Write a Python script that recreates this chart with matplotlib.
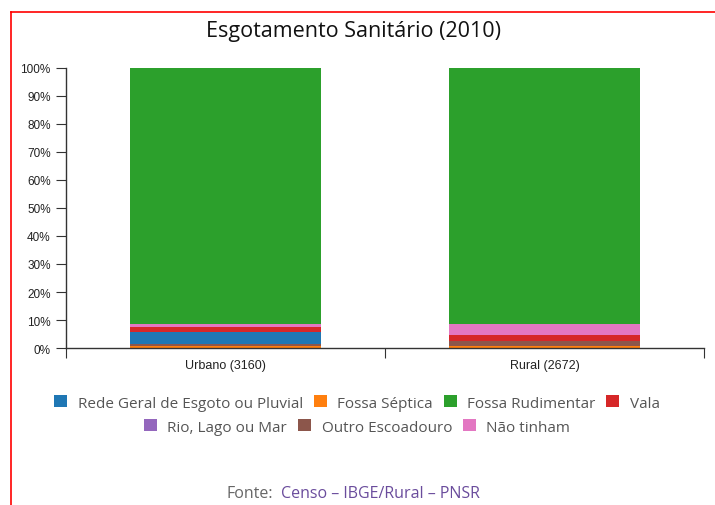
import matplotlib.pyplot as plt
from matplotlib.lines import Line2D
from matplotlib.patches import Patch

# categories and shares (%)
categories = ['Urbano (3160)', 'Rural (2672)']
series_names = ['Rede Geral de Esgoto ou Pluvial', 'Fossa Séptica', 'Fossa Rudimentar',
                'Vala', 'Rio, Lago ou Mar', 'Outro Escoadouro', 'Não tinham']
rede_geral = [4.3, 0.0]
fossa_septica = [0.8, 0.8]
fossa_rudimentar = [91.3, 91.4]
vala = [1.8, 2.1]
rio_lago_mar = [0.0, 0.0]
outro_escoadouro = [0.7, 1.8]
nao_tinham = [1.1, 3.9]

colors = {
    'Rede Geral de Esgoto ou Pluvial': '#1f77b4',
    'Fossa Séptica': '#ff7f0e',
    'Fossa Rudimentar': '#2ca02c',
    'Vala': '#d62728',
    'Rio, Lago ou Mar': '#9467bd',
    'Outro Escoadouro': '#8c564b',
    'Não tinham': '#e377c2',
}

# order in which segments are stacked, bottom to top
stack = [
    ('Fossa Séptica', fossa_septica),
    ('Outro Escoadouro', outro_escoadouro),
    ('Rede Geral de Esgoto ou Pluvial', rede_geral),
    ('Rio, Lago ou Mar', rio_lago_mar),
    ('Vala', vala),
    ('Não tinham', nao_tinham),
    ('Fossa Rudimentar', fossa_rudimentar),
]

W, H = 715, 506
fig = plt.figure(figsize=(W / 100, H / 100), dpi=100)
ax = fig.add_axes([66 / W, (H - 349) / H, 638 / W, 280 / H])

x = list(range(len(categories)))
bottom = [0.0] * len(categories)
for name, vals in stack:
    ax.bar(x, vals, width=0.6, bottom=bottom, color=colors[name],
           edgecolor='none')
    bottom = [b + v for b, v in zip(bottom, vals)]

ax.set_xlim(-0.5, 1.5)
ax.set_ylim(0, 100)
ax.spines['top'].set_visible(False)
ax.spines['right'].set_visible(False)
for s in ['left', 'bottom']:
    ax.spines[s].set_color('#333333')
    ax.spines[s].set_linewidth(1)

ax.set_yticks(range(0, 101, 10))
ax.set_yticklabels([f'{v}%' for v in range(0, 101, 10)],
                   fontfamily='Liberation Sans', fontsize=8.5, color='#222222')
ax.tick_params(axis='y', length=7, color='#333333', pad=4)

ax.set_xticks([-0.5, 0.5, 1.5])
ax.set_xticklabels(['', '', ''])
ax.tick_params(axis='x', which='major', length=7, color='#333333')
ax.set_xticks(x, minor=True)
ax.set_xticklabels(categories, minor=True, fontfamily='Liberation Sans',
                   fontsize=9, color='#222222')
ax.tick_params(axis='x', which='minor', length=0, pad=8)

fig.text(353 / W, 1 - 32 / H, 'Esgotamento Sanitário (2010)', ha='center',
         va='center', fontsize=15.5, fontfamily='Open Sans', color='#111111')

handles = [Patch(facecolor=colors[n], edgecolor='none', label=n) for n in series_names]
leg_kw = dict(frameon=False, handlelength=0.85, handleheight=0.85, handletextpad=0.7,
              columnspacing=0.7, prop={'family': 'Open Sans', 'size': 11},
              labelcolor='#555555', loc='center')
fig.legend(handles=handles[:4], ncol=4, bbox_to_anchor=(357 / W, 1 - 404 / H), **leg_kw)
fig.legend(handles=handles[4:], ncol=3, bbox_to_anchor=(357 / W, 1 - 428 / H), **leg_kw)

fig.text(227 / W, 1 - 494 / H, 'Fonte:', ha='left', va='center', fontsize=11.5,
         fontfamily='Open Sans', color='#666666')
fig.text(281 / W, 1 - 494 / H, 'Censo – IBGE/Rural – PNSR', ha='left', va='center',
         fontsize=11.5, fontfamily='Open Sans', color='#6a4c9c')

# red frame of the page
fig.add_artist(Line2D([11 / W, 11 / W], [0, 1 - 13 / H], color='red', lw=1.2))
fig.add_artist(Line2D([11 / W, 1], [1 - 13 / H, 1 - 13 / H], color='red', lw=1.2))

fig.savefig('out.png', dpi=100)
